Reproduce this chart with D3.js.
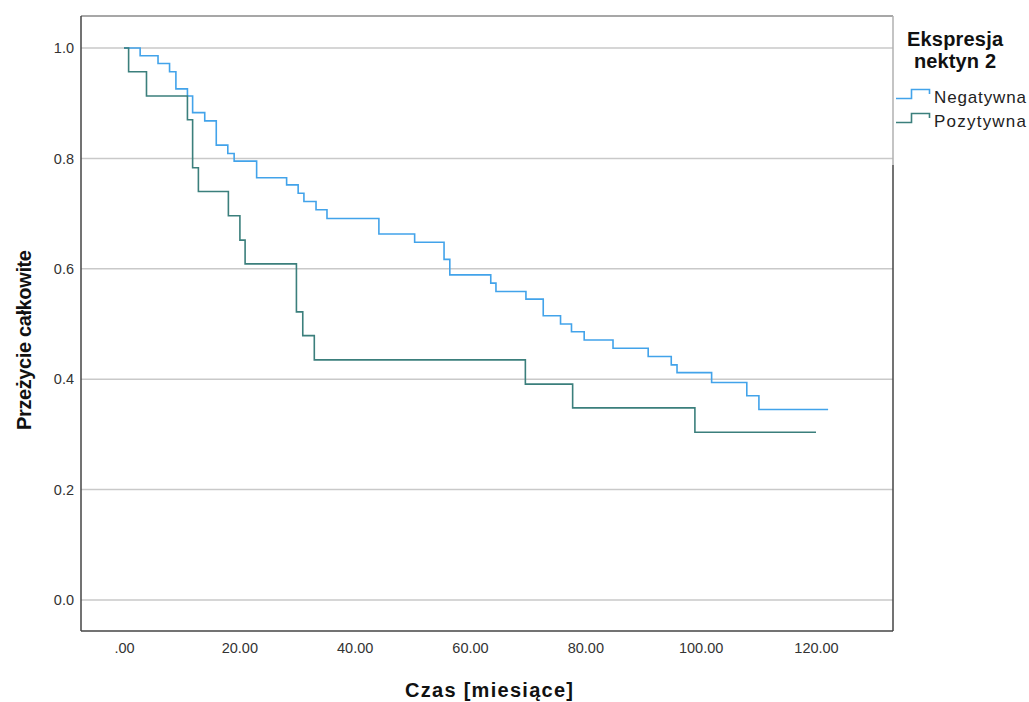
<!DOCTYPE html>
<html>
<head>
<meta charset="utf-8">
<script src="https://cdn.jsdelivr.net/npm/d3@7"></script>
<style>
  body { margin: 0; background: #fff; }
  text { font-family: "Liberation Sans", Arial, sans-serif; }
</style>
</head>
<body>
<div id="chart"></div>
<script>
// Kaplan-Meier steps (time in months, survival)
const negTimes = [0, 2.8, 5.9, 7.9, 9.0, 11.0, 11.9, 14.0, 16.0, 18.0, 19.1, 23.0, 28.2, 30.2, 31.2, 33.3, 35.2, 44.2, 50.4, 55.5, 56.5, 63.6, 64.5, 69.7, 72.7, 75.7, 77.6, 79.8, 84.8, 90.9, 94.9, 95.9, 101.9, 108.0, 110.1, 122.1];
const negSurv  = [1.0, 0.986, 0.972, 0.957, 0.926, 0.913, 0.883, 0.868, 0.824, 0.809, 0.795, 0.765, 0.752, 0.737, 0.722, 0.707, 0.691, 0.663, 0.648, 0.617, 0.589, 0.574, 0.559, 0.545, 0.515, 0.500, 0.486, 0.471, 0.456, 0.441, 0.426, 0.412, 0.394, 0.370, 0.345, 0.345];
const posTimes = [0, 0.8, 3.9, 11.0, 11.9, 12.9, 18.1, 20.1, 21.0, 29.9, 31.0, 33.0, 69.6, 77.8, 99.0, 120.0];
const posSurv  = [1.0, 0.957, 0.913, 0.870, 0.783, 0.740, 0.696, 0.652, 0.609, 0.522, 0.479, 0.435, 0.391, 0.348, 0.304, 0.304];

const groupNames = ["Negatywna", "Pozytywna"];
const groupColors = ["#42a3ea", "#3b7f7c"];
const xTicks = [0, 20, 40, 60, 80, 100, 120];
const yTicks = [0, 0.2, 0.4, 0.6, 0.8, 1.0];

const width = 1029, height = 702;
const frame = { left: 81, right: 893, top: 16, bottom: 631 };

const x = d3.scaleLinear().domain([0, 120]).range([124, 816]);
const y = d3.scaleLinear().domain([0, 1]).range([600, 48]);

const svg = d3.select("#chart").append("svg")
  .attr("width", width)
  .attr("height", height)
  .attr("viewBox", [0, 0, width, height]);

svg.append("rect").attr("width", width).attr("height", height).attr("fill", "#fff");

// grid lines
svg.append("g")
  .selectAll("line")
  .data(yTicks)
  .join("line")
  .attr("x1", frame.left)
  .attr("x2", frame.right)
  .attr("y1", d => y(d))
  .attr("y2", d => y(d))
  .attr("stroke", "#c9c9c9")
  .attr("stroke-width", 1.5);

// y axis labels
const yAxis = svg.append("g")
  .attr("transform", `translate(${frame.left},0)`)
  .call(d3.axisLeft(y).tickValues(yTicks).tickFormat(d3.format(".1f")).tickSize(0).tickPadding(7));
yAxis.select(".domain").remove();
yAxis.selectAll("text").attr("font-size", 14.5).attr("fill", "#333")
  .style("font-family", "'Liberation Sans', Arial, sans-serif");

// x axis labels
const xAxis = svg.append("g")
  .attr("transform", `translate(0,${frame.bottom})`)
  .call(d3.axisBottom(x).tickValues(xTicks)
    .tickFormat(d => d === 0 ? ".00" : d3.format(".2f")(d))
    .tickSize(0).tickPadding(12));
xAxis.select(".domain").remove();
xAxis.selectAll("text").attr("font-size", 14.5).attr("fill", "#333")
  .style("font-family", "'Liberation Sans', Arial, sans-serif");

// frame
svg.append("line").attr("x1", frame.left).attr("x2", frame.right)
  .attr("y1", frame.top).attr("y2", frame.top)
  .attr("stroke", "#8a8a8a").attr("stroke-width", 1.5);
svg.append("line").attr("x1", frame.right).attr("x2", frame.right)
  .attr("y1", frame.top).attr("y2", 165)
  .attr("stroke", "#b0b0b0").attr("stroke-width", 1.5);
svg.append("line").attr("x1", frame.right).attr("x2", frame.right)
  .attr("y1", 165).attr("y2", frame.bottom)
  .attr("stroke", "#444").attr("stroke-width", 1.5);
svg.append("line").attr("x1", frame.left).attr("x2", frame.left)
  .attr("y1", frame.top).attr("y2", frame.bottom)
  .attr("stroke", "#444").attr("stroke-width", 1.5);
svg.append("line").attr("x1", frame.left).attr("x2", frame.right)
  .attr("y1", frame.bottom).attr("y2", frame.bottom)
  .attr("stroke", "#444").attr("stroke-width", 1.5);

// survival curves
const line = d3.line()
  .x(d => x(d[0]))
  .y(d => y(d[1]))
  .curve(d3.curveStepAfter);

const series = [
  d3.zip(negTimes, negSurv),
  d3.zip(posTimes, posSurv)
];

svg.append("g")
  .selectAll("path")
  .data(series)
  .join("path")
  .attr("d", d => line(d))
  .attr("fill", "none")
  .attr("stroke", (d, i) => groupColors[i])
  .attr("stroke-width", 1.6);

// axis titles
svg.append("text")
  .attr("x", 489)
  .attr("y", 697)
  .attr("text-anchor", "middle")
  .attr("font-size", 20)
  .attr("font-weight", "bold")
  .attr("fill", "#111")
  .attr("textLength", 168)
  .text("Czas [miesiące]");

svg.append("text")
  .attr("transform", "translate(31,340) rotate(-90)")
  .attr("text-anchor", "middle")
  .attr("font-size", 20)
  .attr("font-weight", "bold")
  .attr("fill", "#111")
  .attr("textLength", 180)
  .text("Przeżycie całkowite");

// legend
const legend = svg.append("g");
legend.append("text")
  .attr("x", 955).attr("y", 46)
  .attr("text-anchor", "middle")
  .attr("font-size", 20).attr("font-weight", "bold").attr("fill", "#111")
  .attr("textLength", 96)
  .text("Ekspresja");
legend.append("text")
  .attr("x", 955).attr("y", 68)
  .attr("text-anchor", "middle")
  .attr("font-size", 20).attr("font-weight", "bold").attr("fill", "#111")
  .attr("textLength", 82)
  .text("nektyn 2");

const item = legend.selectAll("g.item")
  .data(groupNames)
  .join("g")
  .attr("class", "item")
  .attr("transform", (d, i) => `translate(0,${i * 24})`);

item.append("path")
  .attr("d", "M896,98.5H911.5V89.5H929.5V94")
  .attr("fill", "none")
  .attr("stroke", (d, i) => groupColors[i])
  .attr("stroke-width", 1.6);

item.append("text")
  .attr("x", 934).attr("y", 103)
  .attr("font-size", 17).attr("fill", "#222")
  .attr("textLength", 92)
  .text(d => d);
</script>
</body>
</html>
